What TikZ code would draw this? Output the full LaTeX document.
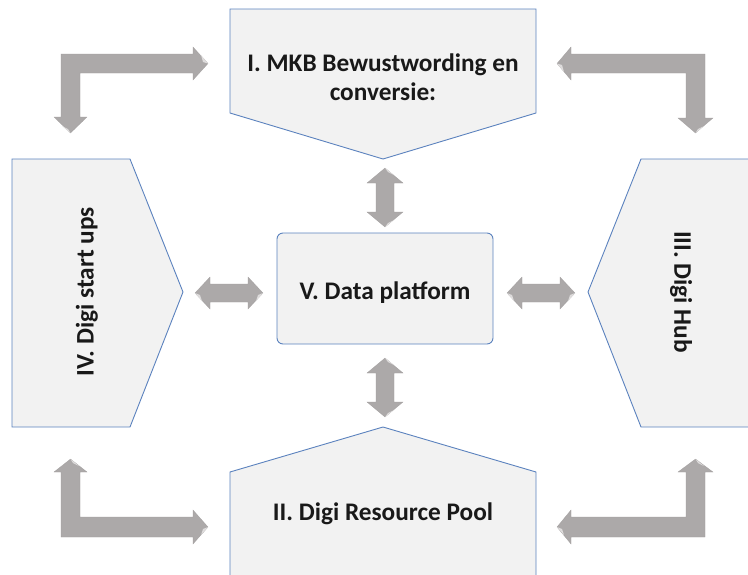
\documentclass[tikz,border=0pt]{standalone}
\usepackage{fontspec}
\setmainfont{Carlito}
\definecolor{boxfill}{HTML}{F2F2F2}
\definecolor{boxline}{HTML}{5B82BE}
\definecolor{arrowgray}{RGB}{172,169,169}
\definecolor{bevel}{RGB}{222,220,220}
\begin{document}
\begin{tikzpicture}[x=1pt,y=-1pt,
  shapebox/.style={fill=boxfill,draw=boxline,line width=0.9pt,line join=miter},
  blockarrow/.style={fill=arrowgray,draw=arrowgray!92!black,line width=0.2pt},
  lbl/.style={font=\fontsize{25.3}{29}\selectfont\bfseries,align=center,inner sep=0pt,text=black!90}]
\useasboundingbox (0,0) rectangle (748,574);
\begin{scope}
\clip (0,0) rectangle (748,574);
% I. top pentagon
\draw[shapebox] (230,9) -- (536,9) -- (536,113) -- (383,159) -- (230,113) -- cycle;
% IV. left
\draw[shapebox] (12,159) -- (130,159) -- (183,292) -- (130,427) -- (12,427) -- cycle;
% III. right
\draw[shapebox] (760,159) -- (641,159) -- (588,292) -- (641,427) -- (760,427);
\fill[boxfill] (748.5,160) rectangle (760,426);
% II. bottom
\draw[shapebox] (230,590) -- (230,472) -- (383,427) -- (536,472) -- (536,590);
% V. center
\draw[shapebox,rounded corners=6pt] (277,233) rectangle (493,344);
\end{scope}

\node[lbl] (mkb) at (383,77) {I. MKB Bewustwording en\\conversie:};
\node[lbl,rotate=90] (start) at (87,292) {IV. Digi start ups};
\node[lbl,rotate=-90] (hub) at (681,292) {III. Digi Hub};
\node[lbl] (pool) at (383,514) {II. Digi Resource Pool};
\node[lbl] (data) at (385,293) {V. Data platform};

% straight double arrows
\draw[blockarrow] (195,293) -- (210,277) -- (210,284) -- (248,284) -- (248,277) -- (263,293) -- (248,309) -- (248,302) -- (210,302) -- (210,309) -- cycle;
\draw[blockarrow] (507,293) -- (522,277) -- (522,284) -- (560,284) -- (560,277) -- (575,293) -- (560,309) -- (560,302) -- (522,302) -- (522,309) -- cycle;
\draw[blockarrow] (385,168) -- (403,183) -- (394,183) -- (394,212) -- (403,212) -- (385,227) -- (367,212) -- (376,212) -- (376,183) -- (367,183) -- cycle;
\draw[blockarrow] (385,358) -- (403,373) -- (394,373) -- (394,402) -- (403,402) -- (385,417) -- (367,402) -- (376,402) -- (376,373) -- (367,373) -- cycle;

% bent arrows
\draw[blockarrow] (61,54) -- (193,54) -- (193,47) -- (208,63.5) -- (193,80) -- (193,73) -- (80,73) -- (80,117) -- (87,117) -- (70.5,133) -- (54,117) -- (61,117) -- cycle;
\draw[blockarrow] (705,54) -- (571,54) -- (571,47) -- (557,63.5) -- (571,80) -- (571,73) -- (686,73) -- (686,118) -- (678,118) -- (695.5,133) -- (713,118) -- (705,118) -- cycle;
\draw[blockarrow] (70.5,459) -- (87,472) -- (80,472) -- (80,517) -- (193,517) -- (193,510) -- (208,527) -- (193,544) -- (193,537) -- (61,537) -- (61,472) -- (54,472) -- cycle;
\draw[blockarrow] (695.5,459) -- (713,472) -- (705,472) -- (705,537) -- (571,537) -- (571,544) -- (557,527) -- (571,510) -- (571,517) -- (686,517) -- (686,472) -- (678,472) -- cycle;

% bevel highlights on arrow tips
\begin{scope}[fill=bevel]
\fill (208,63.5) -- (201,55) -- (203,62) -- cycle;
\fill (70.5,133) -- (62,126) -- (68,129) -- cycle;
\fill (557,63.5) -- (564,72) -- (562,65) -- cycle;
\fill (695.5,133) -- (704,126) -- (698,129) -- cycle;
\fill (208,527) -- (201,535) -- (203,529) -- cycle;
\fill (70.5,459) -- (79,466) -- (73,463) -- cycle;
\fill (557,527) -- (564,535) -- (562,529) -- cycle;
\fill (695.5,459) -- (704,466) -- (698,463) -- cycle;
\fill (263,293) -- (256,301) -- (258,295) -- cycle;
\fill (195,293) -- (202,301) -- (200,295) -- cycle;
\fill (575,293) -- (568,301) -- (570,295) -- cycle;
\fill (507,293) -- (514,301) -- (512,295) -- cycle;
\fill (385,168) -- (394,175) -- (388,172) -- cycle;
\fill (385,227) -- (394,220) -- (388,223) -- cycle;
\fill (385,358) -- (394,365) -- (388,362) -- cycle;
\fill (385,417) -- (394,410) -- (388,413) -- cycle;
\end{scope}
\end{tikzpicture}
\end{document}
